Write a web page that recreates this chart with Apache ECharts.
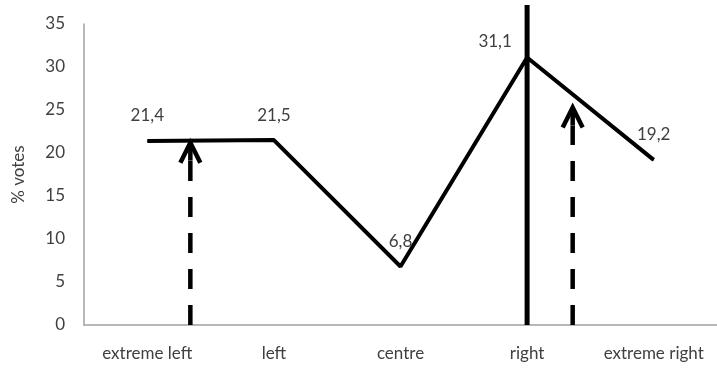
<!DOCTYPE html>
<html>
<head>
<meta charset="utf-8">
<script src="https://cdn.jsdelivr.net/npm/echarts@6/dist/echarts.min.js"></script>
<style>
  html, body { margin: 0; padding: 0; background: #fff; }
  #chart { width: 717px; height: 373px; }
</style>
</head>
<body>
<div id="chart"></div>
<script>
// categories and vote shares
var categories = ['extreme left', 'left', 'centre', 'right', 'extreme right'];
var votes = [21.4, 21.5, 6.8, 31.1, 19.2];
var yTicks = [0, 5, 10, 15, 20, 25, 30, 35];

// the thick vertical line at "right" (category index, top value)
var dividerPos = 3;
var dividerTop = 37.2;

// dashed arrows (position in category units, tip value)
var arrowPos = [0.34, 3.36];
var arrowTop = [21.2, 25.3];

var textColor = '#404040';
var fontFamily = 'Lato, "Open Sans", sans-serif';
var fontSize = 17;

var chart = echarts.init(document.getElementById('chart'));

var arrowData = [];
for (var i = 0; i < arrowPos.length; i++) {
  arrowData.push([arrowPos[i], arrowTop[i]]);
}

// labels for the main line, the peak label sits to the left
var lineData = votes.map(function (v, i) {
  var item = { value: v };
  if (i === 3) {
    item.label = { position: 'top', offset: [-32, 9] };
  }
  return item;
});

var option = {
  animation: false,
  grid: { left: 84, right: 0, top: 24, bottom: 48, outerBoundsMode: 'none' },
  xAxis: [
    {
      type: 'category',
      data: categories,
      boundaryGap: true,
      axisTick: { show: false },
      axisLine: { lineStyle: { color: '#a0a0a0', width: 1.5 } },
      axisLabel: { interval: 0, color: textColor, fontSize: fontSize, fontFamily: fontFamily, margin: 20 }
    },
    {
      type: 'value',
      min: -0.5,
      max: 4.5,
      show: false
    }
  ],
  yAxis: {
    type: 'value',
    min: yTicks[0],
    max: yTicks[yTicks.length - 1],
    interval: 5,
    name: '% votes',
    nameLocation: 'middle',
    nameGap: 57,
    nameRotate: 90,
    nameTextStyle: { color: textColor, fontSize: fontSize, fontFamily: fontFamily },
    splitLine: { show: false },
    axisTick: { show: false },
    axisLine: { show: true, onZero: false, lineStyle: { color: '#a0a0a0', width: 1.5 } },
    axisLabel: { color: textColor, fontSize: fontSize, fontFamily: fontFamily, margin: 19 }
  },
  series: [
    {
      type: 'line',
      data: lineData,
      symbol: 'circle',
      symbolSize: 1,
      showSymbol: true,
      itemStyle: { color: '#000' },
      lineStyle: { color: '#000', width: 4 },
      label: {
        show: true,
        position: 'top',
        distance: 16,
        color: textColor,
        fontSize: fontSize,
        fontFamily: fontFamily,
        formatter: function (p) { return String(p.value).replace('.', ','); }
      },
      z: 3
    },
    {
      type: 'line',
      xAxisIndex: 1,
      data: [[dividerPos, 0], [dividerPos, dividerTop]],
      symbol: 'none',
      clip: false,
      lineStyle: { color: '#000', width: 5 },
      z: 4
    },
    {
      type: 'custom',
      xAxisIndex: 1,
      data: arrowData,
      clip: false,
      renderItem: function (params, api) {
        var tip = api.coord([api.value(0), api.value(1)]);
        var base = api.coord([api.value(0), 0]);
        var stem = 18;
        return {
          type: 'group',
          children: [
            {
              type: 'line',
              shape: { x1: base[0], y1: base[1], x2: tip[0], y2: tip[1] + stem },
              style: { stroke: '#000', lineWidth: 4.5, lineDash: [20, 16] }
            },
            {
              type: 'line',
              shape: { x1: tip[0], y1: tip[1] + stem, x2: tip[0], y2: tip[1] + 2 },
              style: { stroke: '#000', lineWidth: 4.5 }
            },
            {
              type: 'polyline',
              shape: { points: [[tip[0] - 10, tip[1] + 20], [tip[0], tip[1]], [tip[0] + 10, tip[1] + 20]] },
              style: { stroke: '#000', lineWidth: 4.5, fill: null }
            }
          ]
        };
      },
      z: 5
    }
  ]
};

chart.setOption(option);
</script>
</body>
</html>
